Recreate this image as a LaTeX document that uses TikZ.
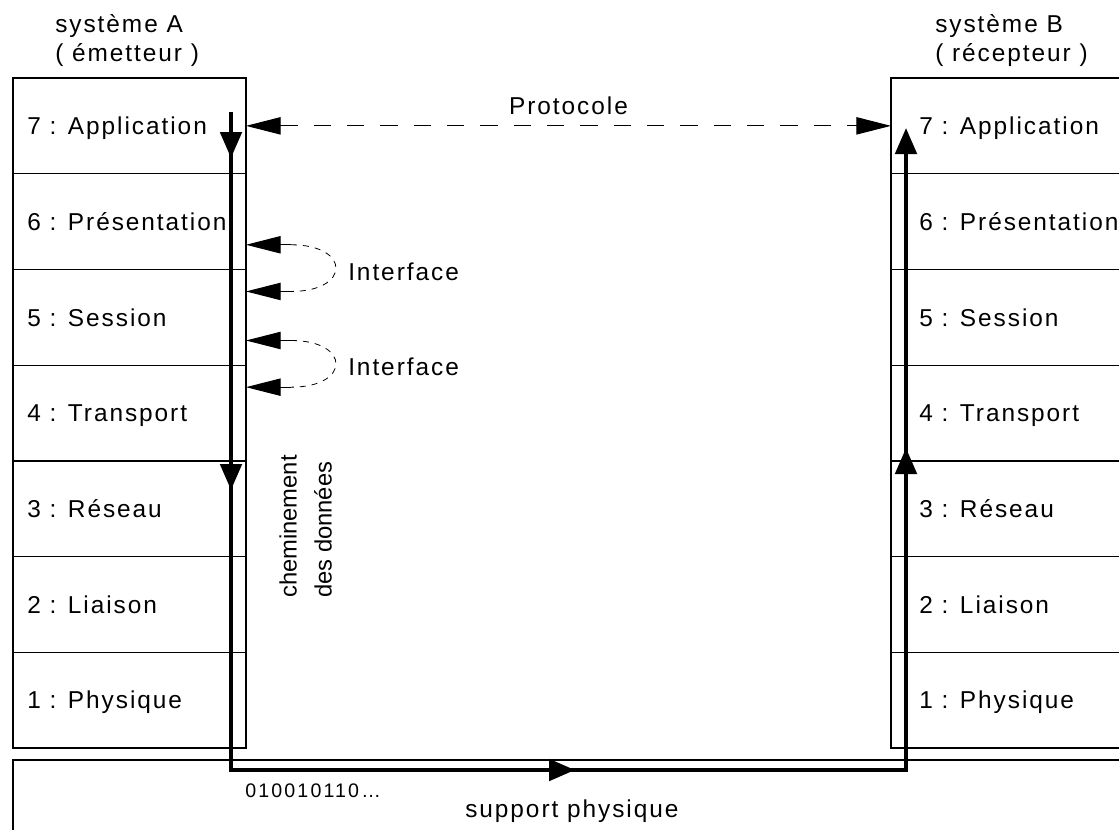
\documentclass[tikz,border=0pt]{standalone}
\usepackage{fontspec}
\setmainfont{Liberation Sans}
\newfontfamily\spaced{Liberation Sans}[LetterSpace=8]
\newfontfamily\bitsfont{Liberation Sans}[LetterSpace=11]
\usetikzlibrary{arrows.meta,positioning,decorations.markings}
\newcommand{\osifont}{\spaced\fontsize{18.3pt}{21.75pt}\selectfont}
\tikzset{ptip/.tip={Triangle[length=26pt,width=13pt]},
         dtip/.tip={Triangle[length=19.5pt,width=16pt]}}
\tikzstyle{layer}=[rectangle,draw,line width=1pt,minimum width=174.75pt,
minimum height=71.79pt,inner sep=0pt,outer sep=0pt]
\tikzstyle{atext}=[anchor=base west,inner sep=0pt,xshift=10.5pt,yshift=-6.6pt,font=\osifont]
\tikzstyle{btext}=[atext,xshift=10.5pt]
\tikzstyle{protocol}=[ptip-ptip,line width=0.8pt,dash pattern=on 13pt off 12pt]
\tikzstyle{iface}=[ptip-,line width=0.8pt]
\tikzstyle{ifarc}=[line width=0.6pt,dash pattern=on 4.5pt off 4.5pt]
\tikzstyle{datapath}=[line width=3pt,-dtip,postaction=decorate,
decoration={markings,
mark=at position 34.5pt with {\arrow{dtip}},
mark=at position 283.5pt with {\arrow{dtip}},
mark=at position 751.5pt with {\arrow{dtip}},
mark=at position 1241.25pt with {\arrow{dtip}}}]

\begin{document}
\begin{tikzpicture}[x=0.75pt,y=-0.75pt]
            \useasboundingbox (0,0) rectangle (1119,829);
            \clip (0,0) rectangle (1119,829);

            % SYSTEM A (sender)

            \node[anchor=north west,align=left,inner sep=0pt,font=\osifont] (sysA) at (55,14) {système A\\( émetteur )};
            \node[layer,label={[atext]west:{7 : Application}}] (a7) at (129.5,125.86) {};
            \node[layer,below=0pt of a7,label={[atext]west:{6 : Présentation}}] (a6) {};
            \node[layer,below=0pt of a6,label={[atext]west:{5 : Session}}] (a5) {};
            \node[layer,below=0pt of a5,label={[atext]west:{4 : Transport}}] (a4) {};
            \node[layer,below=0pt of a4,label={[atext]west:{3 : Réseau}}] (a3) {};
            \node[layer,below=0pt of a3,label={[atext]west:{2 : Liaison}}] (a2) {};
            \node[layer,below=0pt of a2,label={[atext]west:{1 : Physique}}] (a1) {};

            % SYSTEM B (receiver)

            \node[anchor=north west,align=left,inner sep=0pt,font=\osifont] (sysB) at (935,14) {système B\\( récepteur )};
            \node[layer,label={[btext]west:{7 : Application}}] (b7) at (1007.5,125.86) {};
            \node[layer,below=0pt of b7,label={[btext]west:{6 : Présentation}}] (b6) {};
            \node[layer,below=0pt of b6,label={[btext]west:{5 : Session}}] (b5) {};
            \node[layer,below=0pt of b5,label={[btext]west:{4 : Transport}}] (b4) {};
            \node[layer,below=0pt of b4,label={[btext]west:{3 : Réseau}}] (b3) {};
            \node[layer,below=0pt of b3,label={[btext]west:{2 : Liaison}}] (b2) {};
            \node[layer,below=0pt of b2,label={[btext]west:{1 : Physique}}] (b1) {};

            % physical medium

            \node[layer,anchor=north west,minimum width=850pt,minimum height=80pt] (medium) at (13,760) {};
            \node[anchor=base west,inner sep=0pt,font=\bitsfont\fontsize{14.7pt}{17pt}\selectfont] (bits) at (245,797) {010010110…};
            \node[anchor=base west,inner sep=0pt,font=\osifont] (mediumtext) at (465,817) {support physique};

            % protocol between the peers

            \draw[protocol] (a7.east) -- (b7.west) node[midway,above=8.25pt,inner sep=0pt,font=\osifont] (proto) {Protocole};

            % interfaces between layers

            \coordinate (i1) at ([yshift=18.5pt]a6.south east);
            \coordinate (i2) at ([yshift=-16.5pt]a6.south east);
            \coordinate (i3) at ([yshift=18.5pt]a5.south east);
            \coordinate (i4) at ([yshift=-16.5pt]a5.south east);
            \draw[iface] (i1) -- ++(45,0) coordinate (i1e);
            \draw[iface] (i2) -- ++(45,0) coordinate (i2e);
            \draw[iface] (i3) -- ++(45,0) coordinate (i3e);
            \draw[iface] (i4) -- ++(45,0) coordinate (i4e);
            \draw[ifarc] (i1e) .. controls +(60,0) and +(60,0) .. (i2e);
            \draw[ifarc] (i3e) .. controls +(60,0) and +(60,0) .. (i4e);
            \node[anchor=base west,inner sep=0pt,font=\osifont] (if1) at ([xshift=76.5pt,yshift=-8pt]a6.south east) {Interface};
            \node[anchor=base west,inner sep=0pt,font=\osifont] (if2) at ([xshift=76.5pt,yshift=-8pt]a5.south east) {Interface};

            % data route

            \coordinate (dstart) at (231,112);
            \coordinate (dturn1) at (231,770);
            \coordinate (dturn2) at (906,770);
            \coordinate (dend) at (906,128);
            \draw[datapath] (dstart) -- (dturn1) -- (dturn2) -- (dend);
            \node[rotate=90,anchor=south west,align=left,inner sep=0pt,
                  font=\fontsize{17.8pt}{26.25pt}\selectfont] (route) at (332,598) {cheminement\\des données};

        \end{tikzpicture}
\end{document}
